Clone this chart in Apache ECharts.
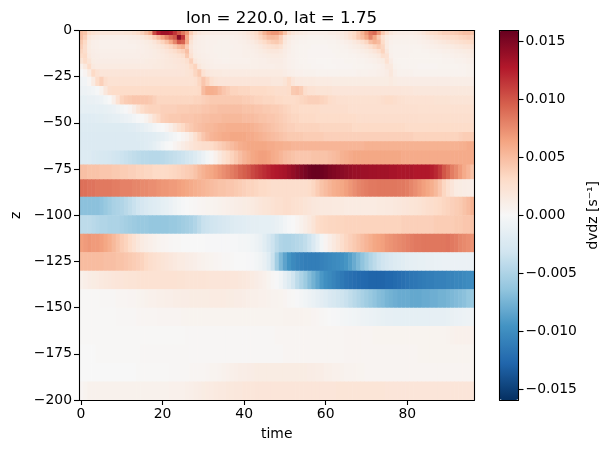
<!DOCTYPE html>
<html><head><meta charset="utf-8">
<style>html,body{margin:0;padding:0;background:#fff}#c{width:614px;height:453px}</style>
<script src="https://cdn.jsdelivr.net/npm/echarts@6/dist/echarts.min.js"></script>
</head><body><div id="c"></div>
<script>
// depth-cell edges (m)
const zEdges=[0,-2.5,-5,-7.5,-10,-12.5,-15,-18,-21,-25,-30,-35,-40,-45,-50,-55,-60,-65,-72.5,-80.5,-90,-100,-110,-120,-130,-140,-150,-160,-170,-180,-190,-200];
const xTicks=[0,20,40,60,80];
const cbTicks=[-0.015,-0.01,-0.005,0,0.005,0.01,0.015];
const colorStops=['#053061','#2166ac','#4393c3','#92c5de','#d1e5f0','#f7f7f7','#fddbc7','#f4a582','#d6604d','#b2182b','#67001f'];
const vLimit=0.0159;
const valueUnit=1e-4;
// dvdz per depth row, 97 time steps, in units of 1e-4 s^-1
const r00=[50,45,30,25,22,20,20,20,20,20,20,22,22,25,30,38,48,60,105,125,135,135,130,115,100,85,70,40,25,18,15,14,12,12,12,12,12,12,12,14,16,20,25,32,42,55,65,70,70,62,45,28,20,16,14,12,10,10,10,10,10,12,12,14,16,20,26,32,42,55,70,85,90,70,42,28,18,14,12,12,12,12,14,16,20,25,30,32,35,38,38,40,42,45,48,48,45];
const r01=[48,38,18,14,12,10,10,10,10,10,10,10,11,12,14,18,24,30,40,52,65,78,90,100,145,115,60,28,14,10,9,8,8,8,8,8,8,8,9,10,12,15,20,26,34,42,50,52,50,38,20,13,10,8,7,7,6,6,6,6,7,7,8,10,13,17,24,32,42,50,62,78,62,42,24,13,9,8,8,8,8,8,9,10,12,15,18,22,24,26,28,30,32,34,36,38,36];
const r02=[42,32,14,10,9,8,8,8,8,8,8,8,9,9,10,11,13,15,20,28,36,46,60,78,100,95,60,22,12,10,9,8,8,8,7,7,7,8,8,9,10,12,14,18,24,30,36,40,42,36,18,11,8,7,6,6,5,5,5,5,5,6,6,7,8,10,12,16,20,26,34,48,55,50,30,14,8,7,7,7,7,7,7,8,9,10,12,14,16,18,20,22,24,26,28,30,32];
const r03=[38,28,13,10,9,8,8,8,8,8,8,8,8,8,9,10,11,13,15,18,22,28,34,42,52,58,40,18,11,10,9,8,8,7,7,7,7,7,8,8,9,10,11,13,16,20,24,26,28,24,14,10,7,6,5,5,5,4,4,4,4,5,5,6,6,7,9,11,13,16,20,26,34,40,34,14,7,6,6,6,6,6,6,6,7,8,9,10,11,12,13,14,16,17,19,20,22];
const r04=[34,28,14,11,10,9,9,9,9,9,9,9,9,9,10,10,11,12,13,15,17,20,24,28,34,38,48,20,12,10,9,8,8,7,7,7,7,8,8,8,9,9,10,11,13,15,17,18,18,16,12,9,7,6,5,5,4,4,4,4,4,4,5,5,6,6,7,8,9,11,13,16,20,26,36,18,7,6,6,6,6,6,5,5,6,6,7,7,8,9,9,10,11,12,13,14,16];
const r05=[30,32,16,12,11,10,10,10,10,10,10,10,10,10,10,11,11,12,13,14,15,17,19,21,24,27,42,24,13,11,10,9,8,8,7,7,7,8,8,8,9,9,9,10,11,12,13,14,14,13,11,8,7,6,5,5,4,4,4,4,4,4,4,5,5,5,6,6,7,8,9,11,13,16,26,24,8,6,6,6,6,5,5,5,5,5,6,6,6,7,7,8,9,9,10,11,13];
const r06=[22,30,22,13,12,12,12,12,12,12,12,12,12,12,12,12,13,14,14,15,16,17,18,19,20,22,26,38,18,13,11,10,9,8,8,7,7,8,8,8,8,8,9,9,10,10,11,12,12,12,10,8,7,6,5,5,4,4,3,3,3,3,4,4,4,5,5,5,6,6,7,8,9,11,13,24,12,6,5,5,5,5,5,5,5,5,5,5,5,6,6,6,7,7,8,9,10];
const r07=[8,16,30,16,14,14,14,14,14,14,14,14,14,14,14,14,14,14,15,15,16,17,17,18,19,20,22,30,36,18,13,11,10,9,9,9,9,9,9,9,9,9,9,9,10,10,10,10,11,11,10,8,7,6,6,5,5,4,4,4,3,3,3,4,4,4,4,5,5,5,6,6,7,8,10,16,16,7,6,5,5,5,5,4,4,4,4,4,5,5,5,5,5,6,6,7,8];
const r08=[0,4,14,32,24,20,20,20,20,20,20,20,20,20,20,20,20,20,20,20,20,20,20,20,20,20,22,24,34,42,24,18,16,15,15,14,14,14,14,14,14,14,14,14,14,14,14,14,14,14,12,10,9,8,8,7,7,7,6,6,6,6,6,6,6,6,6,6,7,7,7,8,8,9,10,12,18,10,7,7,7,7,6,6,6,6,6,6,6,6,6,6,6,6,6,7,7];
const r09=[-6,-5,2,14,30,38,28,24,24,24,24,24,24,24,24,24,24,24,24,24,24,24,24,24,24,24,24,24,26,34,44,36,26,22,20,20,20,20,20,20,20,20,20,20,20,20,20,18,18,18,22,30,20,16,16,15,15,15,14,14,14,14,13,13,13,13,13,13,13,13,13,13,13,13,13,13,15,13,12,12,12,12,12,12,12,12,12,12,12,12,12,11,11,11,11,11,11];
const r10=[-8,-8,-7,-5,-2,6,18,28,30,30,30,30,30,30,30,30,30,30,30,30,30,30,30,30,30,30,30,30,30,32,50,58,58,56,50,44,40,36,36,34,34,34,32,32,32,32,30,30,28,28,28,30,42,44,40,28,24,24,22,22,22,22,20,20,20,20,20,20,20,20,20,20,20,20,20,20,20,20,20,19,19,19,18,18,18,18,18,18,18,18,18,17,17,17,17,17,17];
const r11=[-13,-13,-12,-12,-10,-8,-4,0,10,24,36,40,42,44,44,44,44,42,38,34,34,34,34,34,34,34,34,34,36,36,38,40,42,42,42,42,42,42,42,42,40,40,38,36,36,34,34,34,32,32,30,30,30,32,34,36,38,38,38,36,34,30,28,26,26,26,25,25,25,25,25,25,25,26,28,30,30,28,26,25,24,24,24,24,24,24,24,23,23,23,23,22,22,22,22,22,22];
const r12=[-15,-15,-15,-15,-14,-14,-13,-12,-10,-7,-4,-1,4,12,22,30,34,36,36,36,38,38,38,38,40,40,40,42,42,42,44,44,46,46,48,48,48,48,48,48,46,46,46,44,44,42,42,40,40,38,36,34,32,32,30,30,30,30,30,28,28,28,28,28,28,28,26,26,26,26,26,26,26,26,26,26,26,26,26,26,26,26,26,25,25,25,25,25,25,25,25,25,25,25,25,25,25];
const r13=[-20,-20,-20,-19,-18,-18,-17,-16,-15,-14,-12,-10,-8,-5,-2,1,6,14,24,32,38,40,42,42,42,44,44,44,46,46,48,48,50,50,50,52,52,52,52,52,50,50,50,48,46,46,44,44,42,40,38,36,34,34,32,32,32,32,30,30,30,30,30,30,30,30,30,30,28,28,28,28,28,28,28,28,28,28,28,28,28,28,28,27,27,27,27,27,27,27,27,27,27,27,27,27,27];
const r14=[-22,-22,-22,-22,-22,-22,-22,-22,-22,-22,-22,-21,-20,-19,-17,-15,-12,-9,-5,-2,0,4,10,18,26,32,38,42,46,48,50,52,52,54,56,56,58,58,58,58,58,58,56,54,52,50,48,46,44,42,40,38,38,36,36,36,36,36,36,34,34,34,34,34,34,34,34,32,32,32,32,32,32,32,32,32,32,32,32,32,30,30,30,30,30,30,30,30,30,30,30,30,30,30,30,30,30];
const r15=[-23,-23,-23,-23,-23,-23,-23,-23,-23,-23,-23,-23,-23,-23,-22,-21,-20,-19,-18,-16,-14,-11,-7,-3,0,4,8,16,26,36,44,50,54,56,58,60,60,62,62,62,62,60,60,58,56,54,52,50,48,46,44,42,42,42,42,40,40,40,40,40,38,38,38,38,38,38,38,38,38,38,38,38,38,38,38,38,38,38,38,38,38,38,36,36,36,36,36,36,36,36,36,36,36,38,40,40,40];
const r16=[-23,-23,-23,-23,-23,-23,-23,-23,-23,-23,-23,-23,-23,-23,-23,-22,-20,-18,-15,-11,-6,-2,0,4,8,12,16,20,24,26,28,28,30,34,38,42,46,50,54,58,60,62,62,62,62,62,60,60,58,58,56,56,54,54,54,54,54,54,54,54,54,54,54,54,54,54,54,54,54,54,56,56,56,56,56,56,56,56,56,56,56,56,56,56,56,56,56,56,56,56,56,56,56,57,58,60,60];
const r17=[-22,-22,-22,-24,-25,-26,-27,-28,-30,-32,-34,-36,-38,-40,-42,-44,-44,-45,-45,-45,-44,-42,-40,-38,-36,-34,-30,-27,-22,-16,-10,-4,2,8,16,24,30,36,42,48,54,58,62,64,66,66,64,60,58,54,50,48,46,44,44,44,44,46,46,46,46,48,50,52,56,58,60,62,62,62,62,62,62,62,62,62,62,62,62,60,60,60,60,60,60,60,60,60,60,60,60,60,60,60,60,60,60];
const r18=[48,48,46,46,46,44,44,44,42,42,40,40,38,38,36,36,34,34,32,32,31,32,33,34,36,38,40,42,46,52,56,60,62,66,70,74,78,82,86,92,96,100,106,110,114,118,122,126,128,130,132,136,140,144,148,152,156,158,158,156,154,150,148,146,144,142,140,138,138,136,136,135,135,134,134,134,132,132,130,130,130,130,128,128,128,128,125,120,112,100,92,82,76,68,60,54,46];
const r19=[88,88,86,86,84,84,84,84,82,82,80,80,80,78,78,76,76,74,74,72,70,70,68,68,66,64,62,60,58,56,54,52,50,48,46,46,44,44,42,40,38,36,36,34,32,32,30,28,28,28,28,28,28,28,28,28,30,34,40,46,50,54,58,60,62,66,70,74,78,80,82,84,84,85,85,85,85,85,84,84,82,78,74,70,66,62,58,52,44,34,26,20,14,13,12,11,10];
const r20=[-66,-66,-66,-66,-66,-64,-60,-56,-52,-50,-48,-44,-40,-36,-32,-28,-24,-22,-20,-18,-15,-13,-10,-7,-4,-2,0,1,2,3,4,5,5,6,7,8,9,10,11,12,13,14,15,17,19,21,22,24,26,26,28,28,26,25,24,22,20,18,17,16,16,16,15,15,15,14,14,14,14,14,14,14,14,15,15,16,16,17,18,19,20,21,22,23,25,27,28,30,32,34,36,38,40,42,46,50,56];
const r21=[-42,-42,-42,-44,-46,-48,-48,-50,-50,-50,-52,-54,-56,-58,-60,-60,-60,-62,-62,-62,-62,-62,-60,-60,-58,-56,-54,-52,-48,-42,-36,-34,-32,-30,-28,-26,-24,-22,-20,-19,-18,-17,-16,-16,-15,-15,-15,-14,-12,-9,-5,-2,0,3,7,11,16,22,30,32,33,34,34,35,35,36,36,36,36,36,36,36,36,36,36,36,36,36,36,38,38,38,38,38,38,38,38,40,40,40,40,40,42,42,44,44,46];
const r22=[66,68,70,68,68,66,62,58,52,46,40,36,30,24,18,14,11,9,7,5,4,3,2,1,1,0,0,0,0,0,0,-1,-1,-1,-1,-1,-1,-2,-2,-3,-3,-4,-6,-8,-12,-18,-26,-34,-42,-48,-50,-50,-48,-46,-44,-40,-34,-24,-14,-4,4,10,16,22,28,34,38,42,46,50,54,58,62,64,66,70,72,74,76,78,80,82,84,84,85,85,85,85,85,85,86,84,82,78,76,74,72];
const r23=[50,50,50,50,50,50,48,48,48,46,46,44,42,40,38,36,32,28,26,24,22,20,18,16,14,14,12,11,10,8,7,6,5,4,3,2,2,1,0,0,0,-1,-2,-4,-7,-12,-20,-35,-55,-72,-85,-95,-102,-106,-108,-110,-110,-110,-110,-108,-106,-104,-102,-100,-98,-94,-88,-80,-72,-64,-56,-48,-42,-36,-32,-28,-24,-22,-20,-18,-16,-15,-14,-13,-13,-12,-12,-11,-11,-10,-10,-10,-10,-10,-10,-10,-10];
const r24=[8,10,12,13,14,16,17,18,19,20,20,21,22,22,23,24,24,24,24,24,24,24,24,24,23,23,22,22,22,22,22,21,20,20,20,20,20,19,19,18,17,16,14,12,10,8,5,2,-1,-6,-14,-22,-32,-42,-50,-58,-68,-76,-84,-92,-98,-102,-106,-110,-114,-118,-120,-122,-124,-125,-126,-128,-128,-128,-128,-126,-126,-124,-122,-120,-118,-116,-115,-113,-112,-110,-110,-108,-108,-108,-106,-106,-104,-104,-102,-100,-100];
const r25=[1,1,1,1,1,2,2,2,2,3,3,3,4,4,5,6,7,8,8,9,9,10,10,11,11,12,12,13,13,13,13,13,14,14,14,14,13,13,12,12,11,10,9,9,8,8,7,6,6,5,4,2,1,-1,-3,-6,-8,-11,-14,-17,-20,-24,-27,-30,-33,-36,-40,-44,-48,-52,-56,-60,-64,-68,-70,-74,-76,-78,-80,-80,-80,-82,-82,-82,-80,-80,-78,-78,-76,-76,-74,-72,-70,-68,-66,-62,-60];
const r26=[1,1,1,1,1,1,1,1,1,2,2,2,2,2,3,3,3,3,3,4,4,4,4,4,4,5,5,5,5,5,5,5,5,5,5,5,5,5,5,5,5,5,5,5,5,5,5,5,5,5,6,6,6,6,6,5,5,4,3,2,1,0,-1,-2,-3,-4,-5,-6,-7,-8,-9,-10,-11,-12,-13,-14,-14,-15,-15,-15,-15,-15,-15,-15,-15,-15,-14,-14,-14,-14,-13,-12,-11,-10,-9,-8,-7];
const r27=[1,1,1,1,1,1,1,1,1,1,1,1,1,1,1,1,1,1,1,1,1,1,1,1,1,1,2,2,2,2,2,2,2,2,2,2,2,2,2,2,2,2,2,2,2,2,2,2,3,3,3,3,3,3,3,3,3,3,3,3,3,3,3,3,3,4,4,4,4,4,4,4,5,5,5,5,5,5,5,5,5,5,5,5,5,5,5,5,5,5,6,7,8,8,8,8,8];
const r28=[0,0,0,0,1,1,1,1,1,1,1,1,1,1,1,2,2,2,2,2,2,2,2,2,2,2,2,2,2,2,2,2,2,2,2,2,2,2,2,2,2,2,2,2,2,2,2,2,2,2,3,3,3,3,3,3,3,3,3,3,3,3,3,3,3,4,4,4,4,4,4,4,4,4,4,4,4,4,4,4,4,4,4,5,5,5,5,5,5,5,5,5,5,5,5,5,5];
const r29=[0,0,0,0,0,0,0,0,0,0,0,0,0,0,1,1,1,1,1,1,1,1,2,2,2,2,2,3,3,3,3,4,5,5,6,7,8,9,10,11,11,12,12,13,13,13,13,13,13,13,13,13,13,13,13,13,12,12,11,11,9,9,8,8,7,6,6,6,5,5,4,4,4,4,4,4,4,4,4,4,4,4,4,4,4,4,4,4,4,4,4,4,4,4,4,4,5];
const r30=[3,5,7,7,7,7,7,7,7,7,7,7,7,7,7,7,7,7,7,7,7,7,8,8,8,8,9,10,11,12,13,14,14,15,16,16,17,17,18,18,19,19,19,20,20,20,20,20,20,20,20,20,20,20,20,20,20,20,20,20,20,20,20,21,21,21,21,21,21,21,21,21,21,21,21,20,20,20,20,20,20,20,20,20,20,20,20,20,20,20,20,20,20,20,20,20,20];
const rows=[r00,r01,r02,r03,r04,r05,r06,r07,r08,r09,r10,r11,r12,r13,r14,r15,r16,r17,r18,r19,r20,r21,r22,r23,r24,r25,r26,r27,r28,r29,r30];

const cells=[];
rows.forEach((row,j)=>row.forEach((v,t)=>cells.push([t,zEdges[j],zEdges[j+1],v*valueUnit])));

const FF='DejaVu Sans';
const lab={color:'#000',fontFamily:FF,fontSize:13.9};
const minus=s=>String(s).replace('-','\u2212');
const line={show:true,onZero:false,lineStyle:{color:'#000',width:1.1}};
const tick={show:true,length:5,lineStyle:{color:'#000',width:1.1}};
const frameOnly={show:true,type:'value',axisLine:line,axisTick:{show:false},axisLabel:{show:false},splitLine:{show:false},z:5};

const chart=echarts.init(document.getElementById('c'),null,{renderer:'canvas'});
chart.setOption({
  animation:false,backgroundColor:'#fff',
  title:{text:'lon = 220.0, lat = 1.75',left:276.5,textAlign:'center',top:5,textStyle:{fontFamily:FF,fontSize:16.67,fontWeight:'normal',color:'#000'}},
  grid:[{left:79,width:395.5,top:30.5,height:369.5},{left:499.5,width:19,top:30.5,height:369.5}],
  xAxis:[
    {...frameOnly,gridIndex:0,position:'bottom',min:-0.5,max:96.5,name:'time',nameLocation:'middle',nameGap:27,nameMoveOverlap:false,nameTextStyle:lab,
     axisTick:{...tick,customValues:xTicks},axisLabel:{...lab,show:true,margin:7,customValues:xTicks,formatter:v=>minus(v)}},
    {...frameOnly,gridIndex:0,position:'top',min:-0.5,max:96.5},
    {...frameOnly,gridIndex:1,position:'bottom',min:0,max:1},
    {...frameOnly,gridIndex:1,position:'top',min:0,max:1}
  ],
  yAxis:[
    {...frameOnly,gridIndex:0,position:'left',min:-200,max:0,interval:25,name:'z',nameLocation:'middle',nameGap:56,nameMoveOverlap:false,nameTextStyle:lab,
     axisTick:{...tick},axisLabel:{...lab,show:true,margin:7,formatter:v=>minus(v)}},
    {...frameOnly,gridIndex:0,position:'right',min:-200,max:0,interval:25},
    {...frameOnly,gridIndex:1,position:'right',min:-vLimit,max:vLimit,name:'dvdz [s\u207B\u00B9]',nameLocation:'middle',nameGap:68,nameMoveOverlap:false,nameRotate:90,nameTextStyle:lab,
     axisTick:{...tick,customValues:cbTicks},axisLabel:{...lab,show:true,margin:7,customValues:cbTicks,formatter:v=>minus(v.toFixed(3))}},
    {...frameOnly,gridIndex:1,position:'left',min:-vLimit,max:vLimit}
  ],
  visualMap:{type:'continuous',min:-vLimit,max:vLimit,dimension:3,seriesIndex:0,inRange:{color:colorStops},
    calculable:false,realtime:false,hoverLink:false,showLabel:false,text:null,left:499.5,top:30.5,padding:0,itemWidth:19,itemHeight:369.5,orient:'vertical'},
  series:[{type:'custom',xAxisIndex:0,yAxisIndex:0,z:1,progressive:0,clip:true,silent:true,
    encode:{x:0,y:[1,2]},data:cells,
    renderItem:(p,api)=>{
      const a=api.coord([api.value(0)-0.5,api.value(1)]);
      const b=api.coord([api.value(0)+0.5,api.value(2)]);
      return {type:'rect',shape:{x:a[0],y:a[1],width:b[0]-a[0]+0.6,height:b[1]-a[1]+0.6},style:{fill:api.visual('color')}};
    }}]
});
</script></body></html>
